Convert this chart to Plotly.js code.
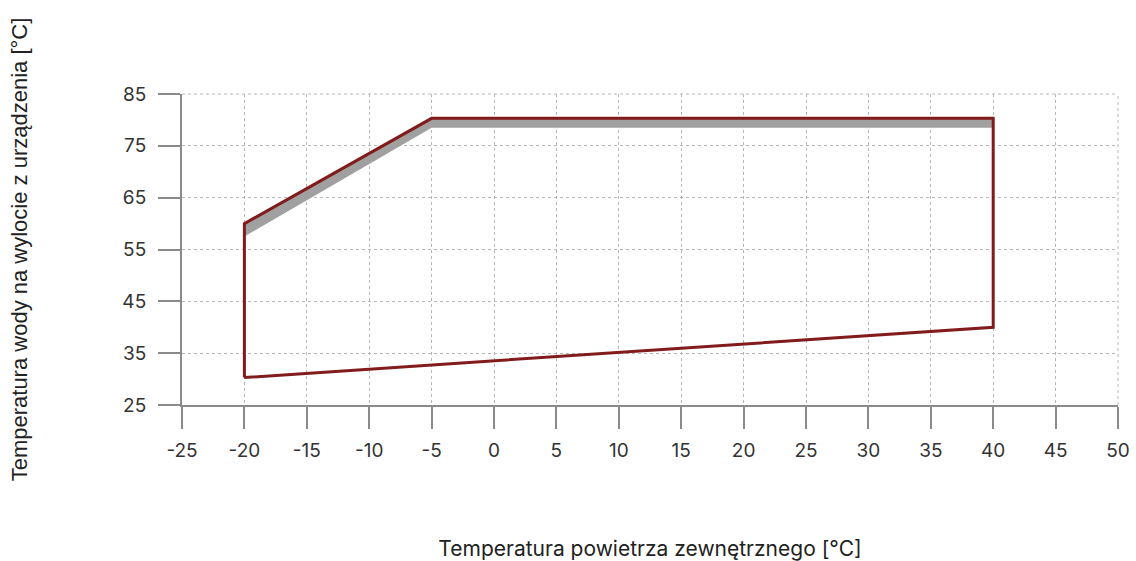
<!DOCTYPE html>
<html><head><meta charset="utf-8">
<script src="https://cdn.plot.ly/plotly-3.0.1.min.js"></script>
<style>html,body{margin:0;padding:0;background:#fff}#chart{width:1136px;height:561px}</style>
</head><body><div id="chart"></div>
<script>
// Operating envelope (outer boundary)
const envX = [-20, -20, -5, 40, 40, -20];
const envY = [30.3, 60, 80.3, 80.3, 40, 30.3];
// Gray band under the upper edge
const bandTopX = [-20, -5, 40];
const bandTopY = [60, 80.3, 80.3];
const bandBotX = [40, -5, -20];
const bandBotY = [78.5, 78.5, 57.5];
const xTicks = [-25, -20, -15, -10, -5, 0, 5, 10, 15, 20, 25, 30, 35, 40, 45, 50];
const xTickText = ['-25', '-20', '-15', '-10', '-5', '0', '5', '10', '15', '20', '25', '30', '35', '40', '45', '50'];
const yTicks = [25, 35, 45, 55, 65, 75, 85];
const yTickText = ['25', '35', '45', '55', '65', '75', '85'];

const traces = [
  {x: bandTopX.concat(bandBotX), y: bandTopY.concat(bandBotY), mode: 'lines', fill: 'toself',
   fillcolor: '#a0a0a0', line: {width: 0, color: '#a0a0a0'}, hoverinfo: 'skip', showlegend: false},
  {x: envX, y: envY, mode: 'lines', line: {color: '#821b1b', width: 3}, showlegend: false}
];
const axisCommon = {
  showgrid: true, gridcolor: '#b8b8b8', griddash: 'dot', gridwidth: 1,
  showline: true, linecolor: '#8a8a8a', linewidth: 2,
  ticks: 'outside', ticklen: 22, tickwidth: 2, tickcolor: '#8a8a8a',
  zeroline: false, tickfont: {family: 'Inter, sans-serif', size: 19, color: '#333'}
};
const layout = {
  width: 1136, height: 561, paper_bgcolor: '#fff', plot_bgcolor: '#fff',
  margin: {l: 182, r: 18, t: 94, b: 156},
  xaxis: Object.assign({}, axisCommon, {range: [-25, 50], tickvals: xTicks, ticktext: xTickText,
    ticklabelstandoff: 5,
    title: {text: 'Temperatura powietrza zewnętrznego [°C]', standoff: 81,
      font: {family: 'Inter, sans-serif', size: 21, color: '#222'}}}),
  yaxis: Object.assign({}, axisCommon, {range: [25, 85], tickvals: yTicks, ticktext: yTickText,
    ticklabelstandoff: 8,
    title: {text: 'Temperatura wody na wylocie z urządzenia [°C]', standoff: 89,
      font: {family: 'Liberation Sans, Arial, sans-serif', size: 22, color: '#222'}}}),
  shapes: [
    {type: 'line', xref: 'paper', yref: 'paper', x0: 1, x1: 1, y0: 0, y1: 1,
     line: {color: '#b8b8b8', width: 1, dash: 'dot'}},
    {type: 'line', xref: 'paper', yref: 'paper', x0: 0, x1: 1, y0: 1, y1: 1,
     line: {color: '#b8b8b8', width: 1, dash: 'dot'}}
  ]
};
Plotly.newPlot('chart', traces, layout, {displayModeBar: false, staticPlot: true});
</script></body></html>
